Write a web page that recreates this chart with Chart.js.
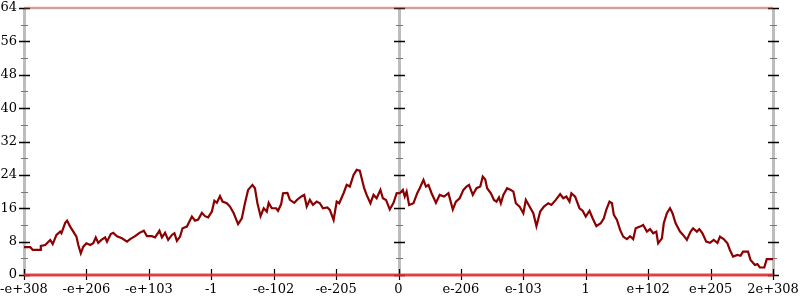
<!DOCTYPE html>
<html>
<head>
<meta charset="utf-8">
<script src="https://cdn.jsdelivr.net/npm/chart.js@4"></script>
<style>
  html, body { margin: 0; padding: 0; background: #fff; }
  #wrap { width: 800px; height: 300px; }
</style>
</head>
<body>
<div id="wrap"><canvas id="myChart"></canvas></div>
<script>
// tick labels along the bottom, one per unit of x
const xLabels = ['-e+308', '-e+206', '-e+103', '-1', '-e-102', '-e-205', '0',
                 'e-206', 'e-103', '1', 'e+102', 'e+205', '2e+308'];
const yMax = 64;
const yStep = 8;

// the walk (x in tick units, y in counts)
const walkX = [
  0.00, 0.10, 0.14, 0.26, 0.27, 0.34, 0.42, 0.46, 0.52, 0.58, 0.60, 0.66, 0.69, 0.74, 0.79, 0.84,
  0.87, 0.91, 0.95, 1.00, 1.06, 1.11, 1.15, 1.19, 1.24, 1.30, 1.33, 1.39, 1.43, 1.49, 1.57, 1.65,
  1.70, 1.78, 1.85, 1.92, 1.97, 2.05, 2.10, 2.17, 2.21, 2.26, 2.31, 2.37, 2.41, 2.45, 2.50, 2.54,
  2.61, 2.65, 2.69, 2.74, 2.79, 2.85, 2.90, 2.95, 3.01, 3.05, 3.09, 3.14, 3.18, 3.25, 3.30, 3.36,
  3.43, 3.49, 3.54, 3.59, 3.66, 3.70, 3.74, 3.79, 3.84, 3.89, 3.92, 3.97, 4.04, 4.07, 4.12, 4.15,
  4.22, 4.26, 4.33, 4.38, 4.45, 4.49, 4.53, 4.58, 4.63, 4.69, 4.74, 4.79, 4.86, 4.90, 4.96, 5.01,
  5.05, 5.12, 5.17, 5.22, 5.28, 5.33, 5.38, 5.41, 5.45, 5.49, 5.55, 5.60, 5.65, 5.71, 5.75, 5.80,
  5.86, 5.92, 5.97, 6.02, 6.07, 6.10, 6.13, 6.17, 6.24, 6.30, 6.34, 6.40, 6.44, 6.48, 6.53, 6.60,
  6.66, 6.73, 6.80, 6.87, 6.92, 6.98, 7.04, 7.09, 7.13, 7.19, 7.25, 7.31, 7.35, 7.39, 7.42, 7.48,
  7.53, 7.57, 7.61, 7.64, 7.68, 7.74, 7.80, 7.84, 7.88, 7.94, 8.00, 8.04, 8.10, 8.16, 8.21, 8.27,
  8.33, 8.40, 8.45, 8.52, 8.59, 8.64, 8.69, 8.74, 8.77, 8.83, 8.90, 8.95, 9.00, 9.06, 9.11, 9.17,
  9.24, 9.29, 9.33, 9.38, 9.42, 9.45, 9.50, 9.55, 9.60, 9.66, 9.71, 9.76, 9.80, 9.87, 9.92, 9.98,
  10.03, 10.08, 10.13, 10.16, 10.22, 10.25, 10.30, 10.35, 10.39, 10.44, 10.51, 10.56, 10.62, 10.68, 10.72, 10.78,
  10.82, 10.87, 10.93, 10.99, 11.05, 11.11, 11.15, 11.21, 11.27, 11.31, 11.36, 11.43, 11.48, 11.52, 11.60, 11.64,
  11.71, 11.75, 11.79, 11.86, 11.90, 12.00
];
const walkY = [
  6.7, 6.7, 6.0, 6.0, 7.0, 7.2, 8.4, 7.4, 9.6, 10.4, 10.0, 12.5, 13.0, 11.6, 10.4, 9.2,
  7.2, 5.2, 6.8, 7.6, 7.2, 7.6, 9.0, 7.7, 8.4, 9.0, 8.0, 9.8, 10.1, 9.3, 8.8, 8.0,
  8.6, 9.3, 10.1, 10.6, 9.3, 9.3, 9.0, 10.6, 9.0, 10.1, 8.4, 9.6, 10.0, 8.2, 9.2, 11.2,
  11.6, 12.8, 14.0, 13.0, 13.3, 14.9, 14.1, 13.8, 15.2, 17.8, 17.3, 18.9, 17.6, 17.2, 16.4, 14.8,
  12.2, 13.6, 17.2, 20.4, 21.6, 20.8, 17.2, 14.1, 16.0, 15.2, 17.3, 16.0, 16.0, 15.4, 17.0, 19.6,
  19.7, 18.0, 17.3, 18.1, 18.9, 19.2, 16.4, 18.0, 16.8, 17.6, 17.2, 16.0, 16.2, 15.6, 13.2, 17.6,
  17.2, 19.6, 21.6, 21.2, 24.0, 25.2, 25.0, 23.2, 20.8, 19.2, 17.2, 19.2, 18.4, 20.4, 18.4, 18.0,
  15.7, 17.3, 19.6, 19.6, 20.4, 18.8, 20.0, 16.8, 17.2, 19.6, 20.8, 22.8, 21.2, 21.6, 19.6, 17.3,
  19.2, 18.8, 19.6, 15.7, 17.6, 18.4, 20.4, 21.2, 21.6, 19.2, 20.8, 21.2, 23.6, 22.9, 20.8, 19.6,
  18.0, 17.6, 18.6, 17.2, 19.2, 20.8, 20.4, 20.0, 17.2, 16.4, 14.8, 18.0, 16.4, 14.8, 11.7, 15.2,
  16.4, 17.2, 16.8, 18.0, 19.4, 18.4, 18.8, 17.6, 19.6, 18.8, 16.0, 15.4, 14.0, 15.4, 13.6, 11.7,
  12.4, 13.6, 15.7, 17.6, 17.2, 14.4, 13.2, 10.8, 9.2, 8.6, 9.3, 8.6, 11.2, 11.6, 12.0, 10.4,
  11.0, 10.0, 10.4, 7.6, 8.8, 12.4, 14.8, 16.0, 14.8, 12.4, 10.4, 9.6, 8.4, 10.4, 11.2, 10.4,
  11.0, 10.0, 8.0, 7.7, 8.4, 7.7, 9.2, 8.6, 7.6, 6.0, 4.4, 4.8, 4.6, 5.6, 5.6, 3.6,
  2.4, 2.6, 1.8, 1.8, 3.8, 3.8
];

// the dense bands of hits at the two extremes
const bandX = [0, 12];
const lowBand = [0, 0];
const highBand = [64, 64];

Chart.defaults.font.family = "'DejaVu Serif', serif";
Chart.defaults.font.size = 13;
Chart.defaults.color = '#000';

// axis lines and cross ticks like the original plot
const axesPlugin = {
  id: 'axes',
  beforeDatasetsDraw(chart) {
    const { ctx, chartArea: a, scales: { x, y } } = chart;
    ctx.save();
    ctx.strokeStyle = '#bdbdbd';
    ctx.lineWidth = 2;
    ctx.beginPath();
    ctx.moveTo(a.left, a.top); ctx.lineTo(a.right, a.top);
    ctx.moveTo(a.left, a.bottom); ctx.lineTo(a.right, a.bottom);
    ctx.stroke();
    const axesX = [0, 6, 12].map(v => Math.round(x.getPixelForValue(v)));
    ctx.lineWidth = 3;
    axesX.forEach(px => {
      ctx.beginPath();
      ctx.moveTo(px + 0.5, a.top); ctx.lineTo(px + 0.5, a.bottom);
      ctx.stroke();
    });
    for (let v = 0; v <= yMax; v += yStep / 2) {
      const py = Math.round(y.getPixelForValue(v)) + 0.5;
      const major = v % yStep === 0;
      ctx.strokeStyle = major ? '#000' : '#777';
      ctx.lineWidth = major ? 1.5 : 1;
      const h = major ? 5 : 3;
      axesX.forEach(px => {
        ctx.beginPath();
        ctx.moveTo(px - h, py); ctx.lineTo(px + h + 1, py);
        ctx.stroke();
      });
    }
    ctx.strokeStyle = '#000';
    ctx.lineWidth = 1.2;
    xLabels.forEach((l, i) => {
      const px = Math.round(x.getPixelForValue(i)) + 0.5;
      ctx.beginPath();
      ctx.moveTo(px, a.bottom - 6); ctx.lineTo(px, a.bottom + 5);
      ctx.stroke();
    });
    ctx.restore();
  }
};

const ctx = document.getElementById('myChart').getContext('2d');
const myChart = new Chart(ctx, {
    type: 'line',
    data: {
        datasets: [{
            label: 'walk',
            data: walkX.map((v, i) => ({ x: v, y: walkY[i] })),
            borderColor: '#8b0000',
            borderWidth: 2.2,
            pointRadius: 0,
            tension: 0
        }, {
            label: 'low',
            data: bandX.map((v, i) => ({ x: v, y: lowBand[i] })),
            borderColor: 'rgba(235, 40, 40, 0.85)',
            borderWidth: 3,
            pointRadius: 0
        }, {
            label: 'high',
            data: bandX.map((v, i) => ({ x: v, y: highBand[i] })),
            borderColor: 'rgba(240, 90, 90, 0.3)',
            borderWidth: 3,
            pointRadius: 0
        }]
    },
    options: {
        responsive: true,
        maintainAspectRatio: false,
        animation: false,
        clip: false,
        layout: { padding: { top: 8, right: 27, left: 0, bottom: 0 } },
        plugins: { legend: { display: false }, tooltip: { enabled: false } },
        scales: {
            x: {
                type: 'linear',
                min: 0,
                max: xLabels.length - 1,
                grid: { display: false, drawTicks: false },
                border: { display: false },
                ticks: {
                    stepSize: 1,
                    autoSkip: false,
                    maxRotation: 0,
                    padding: 7,
                    callback: v => xLabels[v]
                },
                afterFit: s => {
                    s.height = 25;
                    s.paddingLeft = 0;
                    s.paddingRight = 0;
                }
            },
            y: {
                min: 0,
                max: yMax,
                grid: { display: false, drawTicks: false },
                border: { display: false },
                ticks: { stepSize: yStep, padding: 7 },
                afterFit: s => {
                    s.width = 24;
                    s.paddingTop = 0;
                    s.paddingBottom = 0;
                }
            }
        }
    },
    plugins: [axesPlugin]
});
</script>
</body>
</html>
